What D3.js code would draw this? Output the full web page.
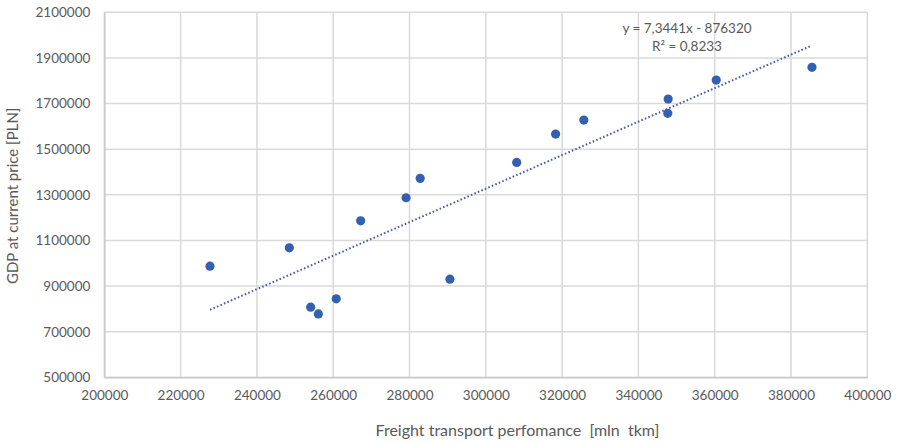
<!DOCTYPE html>
<html>
<head>
<meta charset="utf-8">
<script src="https://cdn.jsdelivr.net/npm/d3@7"></script>
<style>
    body { margin: 0; background: #fff; }
    #chart { width: 898px; height: 443px; }
    text { font-family: Lato, "Open Sans", sans-serif; fill: #595959; }
</style>
</head>
<body>
<div id="chart"></div>
<script>
// Freight transport performance [mln tkm] vs GDP [PLN]
let freight = [227700, 248500, 254100, 256100, 260800, 267200, 279100, 282800, 290600,
    308100, 318300, 325700, 347800, 347700, 360400, 385500];
let gdp = [987000, 1067500, 807500, 778000, 844000, 1186000, 1287000, 1372000, 930000,
    1442000, 1566000, 1627500, 1719500, 1657000, 1803000, 1859000];

let xTicks = [200000, 220000, 240000, 260000, 280000, 300000, 320000, 340000, 360000, 380000, 400000];
let yTicks = [500000, 700000, 900000, 1100000, 1300000, 1500000, 1700000, 1900000, 2100000];

// trendline from the equation shown on the chart
let trendSlope = 7.3441;
let trendIntercept = -876320;
let trendLabel = ["y = 7,3441x - 876320", "R² = 0,8233"];

let margin = { top: 12.3, right: 30.7, bottom: 65.7, left: 104.3 };
let width = 898 - margin.left - margin.right,
    height = 443 - margin.top - margin.bottom;

let svg = d3.select("#chart").append("svg")
    .attr("width", 898)
    .attr("height", 443)
    .append("g")
    .attr("transform", "translate(" + margin.left + "," + margin.top + ")");

let x = d3.scaleLinear().domain([200000, 400000]).range([0, width]);
let y = d3.scaleLinear().domain([500000, 2100000]).range([height, 0]);

// Gridlines
svg.append("g").selectAll("line.vgrid")
    .data(xTicks)
    .enter().append("line")
    .attr("x1", d => x(d)).attr("x2", d => x(d))
    .attr("y1", 0).attr("y2", height)
    .attr("stroke", "#d9d9d9")
    .attr("stroke-width", 1.5);

svg.append("g").selectAll("line.hgrid")
    .data(yTicks)
    .enter().append("line")
    .attr("x1", 0).attr("x2", width)
    .attr("y1", d => y(d)).attr("y2", d => y(d))
    .attr("stroke", "#d9d9d9")
    .attr("stroke-width", 1.5);

// Axes
let xAxis = d3.axisBottom(x).tickValues(xTicks).tickSize(0).tickPadding(13).tickFormat(d3.format("d"));
let yAxis = d3.axisLeft(y).tickValues(yTicks).tickSize(0).tickPadding(14).tickFormat(d3.format("d"));

svg.append("g")
    .attr("transform", "translate(0," + height + ")")
    .call(xAxis)
    .call(g => g.select(".domain").attr("stroke", "#c8c8c8").attr("stroke-width", 1.5))
    .selectAll("text")
    .style("font-size", "13.5px")
    .attr("fill", "#595959");

svg.append("g")
    .call(yAxis)
    .call(g => g.select(".domain").attr("stroke", "#c8c8c8").attr("stroke-width", 1.5))
    .selectAll("text")
    .style("font-size", "13.5px")
    .attr("fill", "#595959");

// Axis titles
svg.append("text")
    .attr("x", 517.5 - margin.left)
    .attr("y", height + 59)
    .attr("text-anchor", "middle")
    .style("font-size", "16px")
    .style("white-space", "pre")
    .text("Freight transport perfomance  [mln  tkm]");

svg.append("text")
    .attr("transform", "rotate(-90)")
    .attr("x", -(height / 2) - 1)
    .attr("y", -86)
    .attr("text-anchor", "middle")
    .style("font-size", "15px")
    .text("GDP at current price [PLN]");

// Trendline
let xExt = d3.extent(freight);
svg.append("line")
    .attr("x1", x(xExt[0]))
    .attr("y1", y(trendSlope * xExt[0] + trendIntercept))
    .attr("x2", x(xExt[1]))
    .attr("y2", y(trendSlope * xExt[1] + trendIntercept))
    .attr("stroke", "#4a5ba6")
    .attr("stroke-width", 2)
    .attr("stroke-dasharray", "1.6,2.2");

// Points
let points = freight.map((f, i) => ({ x: f, y: gdp[i] }));
svg.selectAll(".dot")
    .data(points)
    .enter().append("circle")
    .attr("class", "dot")
    .attr("cx", d => x(d.x))
    .attr("cy", d => y(d.y))
    .attr("r", 4.6)
    .attr("fill", "#3461af");

// Trendline label
svg.append("text")
    .attr("x", 687 - margin.left)
    .attr("y", 33 - margin.top)
    .attr("text-anchor", "middle")
    .style("font-size", "13.5px")
    .attr("fill", "#404040")
    .text(trendLabel[0]);

svg.append("text")
    .attr("x", 687 - margin.left)
    .attr("y", 51 - margin.top)
    .attr("text-anchor", "middle")
    .style("font-size", "13.5px")
    .attr("fill", "#404040")
    .text(trendLabel[1]);
</script>
</body>
</html>
